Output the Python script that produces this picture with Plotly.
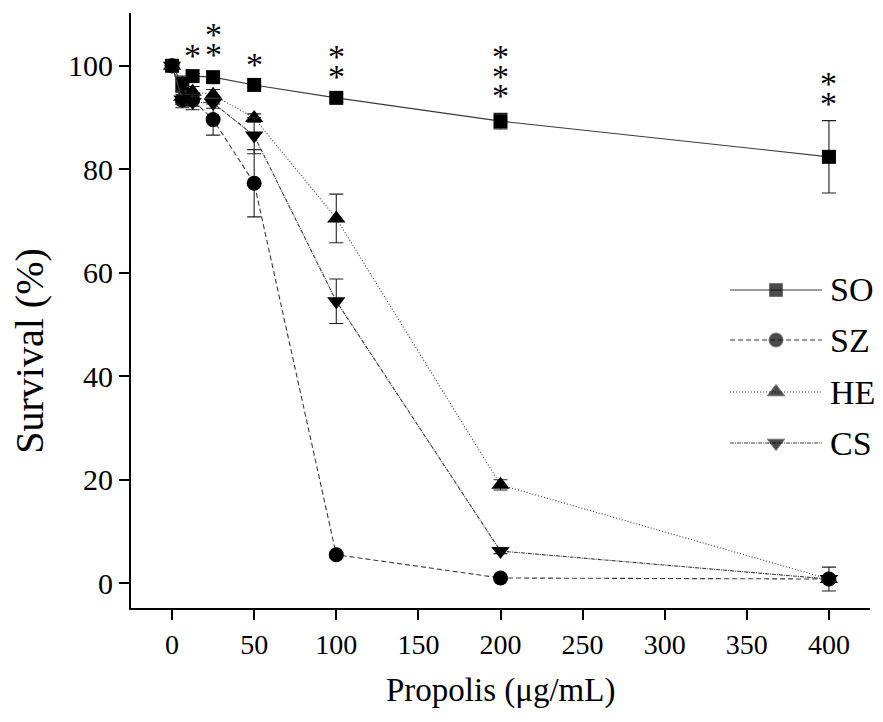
import plotly.graph_objects as go

# ---------------- data ----------------
conc = [0, 6.25, 12.5, 25, 50, 100, 200, 400]
so_mean = [100, 96.5, 98.0, 97.8, 96.3, 93.8, 89.3, 82.4]
so_sd = [0.5, 1.5, 0.5, 1.0, 0.5, 0.8, 1.5, 7.0]
sz_mean = [100, 93.4, 93.4, 89.6, 77.3, 5.5, 1.0, 0.8]
sz_sd = [0.5, 1.5, 1.2, 3.0, 6.5, 0.5, 0.3, 0.5]
he_mean = [100, 94.0, 95.0, 94.4, 89.9, 70.5, 19.0, 0.8]
he_sd = [0.5, 1.2, 1.0, 1.0, 0.8, 4.7, 1.0, 2.3]
cs_mean = [100, 93.5, 93.0, 92.8, 86.5, 54.5, 6.2, 0.8]
cs_sd = [0.5, 1.0, 1.5, 1.0, 3.5, 4.3, 0.5, 0.5]
n_stars = [0, 0, 1, 2, 1, 2, 3, 2]  # significance stars above SO
series_names = ["SO", "SZ", "HE", "CS"]
x_ticks = [0, 50, 100, 150, 200, 250, 300, 350, 400]
y_ticks = [0, 20, 40, 60, 80, 100]

FONT = "Liberation Serif"
LINE_COL = "#3a3a3a"

styles = {
    "SO": dict(dash="solid", symbol="square", size=14),
    "SZ": dict(dash="5px,3px", symbol="circle", size=15),
    "HE": dict(dash="1px,2px", symbol="triangle-up", size=16),
    "CS": dict(dash="4px,1px,1px,1px", symbol="triangle-down", size=16),
}
series = {"SO": (so_mean, so_sd), "SZ": (sz_mean, sz_sd),
          "HE": (he_mean, he_sd), "CS": (cs_mean, cs_sd)}

fig = go.Figure()

for name in series_names:
    m, s = series[name]
    st = styles[name]
    fig.add_trace(go.Scatter(
        x=conc, y=m, mode="lines+markers", name=name, showlegend=False,
        line=dict(color=LINE_COL, width=1.1, dash=st["dash"]),
        marker=dict(symbol=st["symbol"], size=st["size"], color="black"),
        error_y=dict(type="data", array=s, visible=True, color="#222",
                     thickness=1.1, width=7),
    ))

# significance stars
annotations = []
for xi, mi, si, k in zip(conc, so_mean, so_sd, n_stars):
    for j in range(k):
        annotations.append(dict(
            x=xi, y=mi + si + 3.4 + 3.8 * j, xref="x", yref="y",
            text="*", showarrow=False, yanchor="middle",
            font=dict(family=FONT, size=34, color="black")))

# custom legend (overlay axis in [0,1])
leg_y = [0.5345, 0.4504, 0.363, 0.2773]
for name, ly in zip(series_names, leg_y):
    st = styles[name]
    fig.add_trace(go.Scatter(
        x=[0.8106, 0.8728, 0.935], y=[ly, ly, ly], xaxis="x2", yaxis="y2",
        mode="lines+markers", showlegend=False, hoverinfo="skip",
        line=dict(color=LINE_COL, width=1.1, dash=st["dash"]),
        marker=dict(symbol=st["symbol"], size=[0, st["size"] - 1, 0],
                    color="black"),
    ))
    annotations.append(dict(
        x=0.943, y=ly, xref="paper", yref="paper", text=name,
        showarrow=False, xanchor="left", yanchor="middle",
        font=dict(family=FONT, size=34, color="black")))

# axis titles
annotations.append(dict(
    x=-0.137, y=0.432, xref="paper", yref="paper", text="Survival (%)",
    textangle=-90, showarrow=False, xanchor="center", yanchor="middle",
    font=dict(family=FONT, size=40, color="black")))
annotations.append(dict(
    x=0.5, y=-0.138, xref="paper", yref="paper", text="Propolis (μg/mL)",
    showarrow=False, xanchor="center", yanchor="middle",
    font=dict(family=FONT, size=33, color="black")))

fig.update_layout(
    width=875, height=714,
    margin=dict(l=123, r=13, t=5, b=114),
    paper_bgcolor="white", plot_bgcolor="white",
    font=dict(family=FONT, color="black"),
    xaxis=dict(range=[-25, 425], tickvals=x_ticks, showgrid=False,
               zeroline=False, showline=True, linecolor="black",
               linewidth=2, ticks="outside", ticklen=10, tickwidth=2,
               tickcolor="black", tickfont=dict(family=FONT, size=28)),
    yaxis=dict(range=[-4.8, 110.2], tickvals=y_ticks, showgrid=False,
               zeroline=False, showline=True, linecolor="black",
               linewidth=2, ticks="outside", ticklen=10, tickwidth=2,
               tickcolor="black", tickfont=dict(family=FONT, size=30)),
    xaxis2=dict(range=[0, 1], overlaying="x", visible=False,
                showgrid=False, zeroline=False),
    yaxis2=dict(range=[0, 1], overlaying="y", visible=False,
                showgrid=False, zeroline=False),
    annotations=annotations,
)

fig.write_html("out.html")
